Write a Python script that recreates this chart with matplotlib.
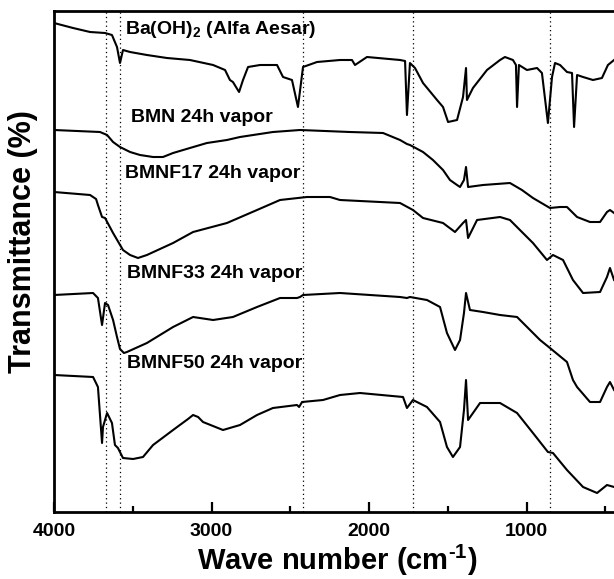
import matplotlib
matplotlib.use("Agg")
import matplotlib.pyplot as plt
from matplotlib.ticker import MultipleLocator

plt.rcParams["font.family"] = ["Liberation Sans", "DejaVu Sans"]
plt.rcParams["font.weight"] = "bold"
plt.rcParams["mathtext.fontset"] = "custom"
plt.rcParams["mathtext.rm"] = "Liberation Sans:bold"
plt.rcParams["mathtext.it"] = "Liberation Sans:bold"
plt.rcParams["mathtext.bf"] = "Liberation Sans:bold"

# FTIR spectra (transmittance in arbitrary offset units)
wn_baoh = [4000, 3879, 3771, 3676, 3632, 3600, 3581, 3562, 3517, 3410, 3283, 3137, 2990, 2914,
           2883, 2864, 2825, 2800, 2768, 2692, 2584, 2546, 2489, 2451, 2419, 2330, 2184, 2108,
           2089, 2013, 1803, 1771, 1759, 1740, 1708, 1657, 1568, 1530, 1498, 1441, 1403, 1384,
           1378, 1340, 1251, 1168, 1137, 1086, 1067, 1060, 1048, 997, 933, 902, 864, 838, 819,
           787, 743, 711, 698, 679, 641, 578, 521, 483, 444]
t_baoh = [489, 484, 480, 479, 477, 465, 449, 462, 460, 457, 454, 452, 447, 442,
          432, 430, 420, 432, 445, 447, 447, 435, 432, 405, 445, 450, 452, 452,
          447, 455, 452, 451, 397, 449, 444, 429, 412, 405, 390, 392, 415, 444,
          412, 424, 442, 452, 455, 452, 447, 405, 447, 442, 444, 439, 389, 435, 449,
          447, 440, 439, 385, 437, 435, 432, 434, 447, 452]

wn_bmn = [4000, 3708, 3663, 3625, 3581, 3517, 3454, 3371, 3308, 3244, 3137, 3029, 2902, 2819,
          2610, 2438, 2121, 1911, 1803, 1759, 1740, 1657, 1594, 1530, 1486, 1441, 1422, 1397,
          1384, 1371, 1276, 1105, 1029, 959, 851, 787, 743, 679, 597, 533, 489, 470, 444]
t_bmn = [382, 380, 377, 370, 365, 360, 357, 355, 355, 359, 364, 369, 372, 375,
         380, 382, 380, 379, 372, 368, 367, 360, 352, 342, 332, 327, 325, 332,
         345, 325, 327, 329, 322, 314, 304, 305, 305, 295, 290, 290, 300, 302, 299]

wn_f17 = [4000, 3771, 3733, 3721, 3695, 3676, 3625, 3562, 3517, 3467, 3410, 3244, 3117, 2902,
          2711, 2565, 2394, 2248, 2184, 1803, 1721, 1657, 1530, 1454, 1403, 1384, 1371, 1314,
          1168, 1105, 1029, 959, 870, 832, 768, 705, 641, 533, 489, 470, 444]
t_f17 = [320, 317, 313, 307, 295, 294, 279, 262, 257, 254, 257, 269, 280, 289,
         302, 312, 315, 315, 312, 309, 302, 294, 289, 280, 289, 292, 274, 292,
         295, 292, 280, 269, 252, 257, 252, 232, 219, 220, 235, 244, 232]

wn_f33 = [4000, 3752, 3721, 3695, 3676, 3657, 3625, 3600, 3581, 3556, 3537, 3410, 3244, 3117,
          2990, 2864, 2711, 2565, 2457, 2438, 2419, 2184, 1803, 1759, 1740, 1632, 1549, 1505,
          1454, 1422, 1397, 1384, 1359, 1276, 1168, 1060, 914, 851, 743, 705, 679, 597, 533,
          489, 470, 444]
t_f33 = [217, 219, 214, 187, 209, 207, 192, 175, 163, 159, 160, 169, 185, 195,
         192, 195, 205, 214, 214, 215, 217, 219, 215, 214, 215, 212, 205, 179,
         162, 172, 199, 219, 202, 200, 197, 195, 172, 164, 150, 132, 125, 110, 110,
         125, 130, 122]

wn_f50 = [4000, 3752, 3721, 3695, 3689, 3663, 3632, 3613, 3594, 3562, 3498, 3435, 3371, 3244,
          3149, 3117, 3085, 3054, 2927, 2819, 2711, 2610, 2457, 2444, 2425, 2292, 2184, 2057,
          1784, 1759, 1721, 1632, 1549, 1505, 1467, 1422, 1397, 1384, 1371, 1295, 1168, 1060,
          959, 864, 832, 743, 641, 552, 489, 444]
t_f50 = [137, 135, 125, 69, 85, 99, 89, 67, 64, 54, 53, 55, 67, 82,
         93, 97, 95, 90, 82, 87, 97, 104, 107, 105, 110, 112, 117, 119,
         115, 104, 112, 105, 90, 65, 55, 65, 102, 132, 92, 109, 109, 99,
         79, 60, 59, 42, 25, 19, 27, 25]

marker_lines = [3670, 3580, 2420, 1720, 850]
sample_labels = [r"Ba(OH)$_2$ (Alfa Aesar)", "BMN 24h vapor", "BMNF17 24h vapor",
                 "BMNF33 24h vapor", "BMNF50 24h vapor"]
label_x = [3549, 3511, 3549, 3537, 3537]
label_y = [482, 395, 339, 239, 149]

fig = plt.figure(figsize=(6.14, 5.79), dpi=100)
ax = fig.add_axes([54 / 614, 1 - 512 / 579, 567 / 614, 501 / 579])

for wn, t in [(wn_baoh, t_baoh), (wn_bmn, t_bmn), (wn_f17, t_f17), (wn_f33, t_f33), (wn_f50, t_f50)]:
    ax.plot(wn, t, color="black", lw=1.5)

for xv in marker_lines:
    ax.axvline(xv, color="black", lw=0.9, ls=(0, (1, 2.5)))

for s, xx, yy in zip(sample_labels, label_x, label_y):
    ax.text(xx, yy, s, fontsize=14, fontweight="bold", ha="left", va="center")

ax.set_xlim(4000, 400)
ax.set_ylim(0, 501)
ax.xaxis.set_major_locator(MultipleLocator(1000))
ax.xaxis.set_minor_locator(MultipleLocator(500))
ax.tick_params(axis="x", which="major", direction="in", length=7, width=1.6, labelsize=14, pad=8)
ax.tick_params(axis="x", which="minor", direction="in", length=4.5, width=1.6)
ax.set_yticks([])
for sp in ax.spines.values():
    sp.set_linewidth(2)
for lbl in ax.get_xticklabels():
    lbl.set_fontweight("bold")

ax.set_xlabel(r"Wave number (cm$^{\text{-}1}$)", fontsize=21, fontweight="bold", labelpad=2)
fig.text(23 / 614, 1 - 242 / 579, "Transmittance (%)", rotation=90, fontsize=22,
         fontweight="bold", ha="center", va="center")

fig.savefig("out.png", dpi=100)
